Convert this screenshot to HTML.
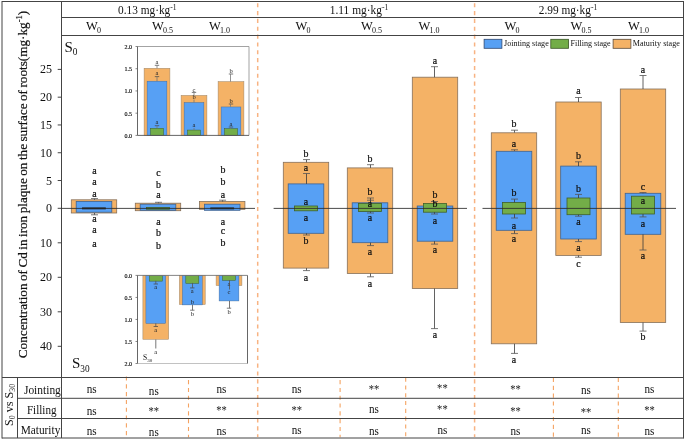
<!DOCTYPE html>
<html><head><meta charset="utf-8"><title>Figure</title>
<style>
html,body{margin:0;padding:0;background:#fff;}
svg{display:block;font-family:"Liberation Serif",serif;}
</style></head><body>
<svg width="685" height="441" viewBox="0 0 685 441">
<rect x="0" y="0" width="685" height="441" fill="#ffffff"/>
<line x1="257.7" y1="3.2" x2="257.7" y2="437" stroke="#F8B382" stroke-width="1.5" stroke-dasharray="4.1 3.735"/>
<line x1="474.6" y1="3.2" x2="474.6" y2="437" stroke="#F8B382" stroke-width="1.5" stroke-dasharray="4.1 3.735"/>
<line x1="126.4" y1="376.5" x2="126.4" y2="437.3" stroke="#F5A362" stroke-width="1.1" stroke-dasharray="4.1 3.7"/>
<line x1="188.5" y1="380.1" x2="188.5" y2="437.3" stroke="#F5A362" stroke-width="1.1" stroke-dasharray="4.1 3.7"/>
<line x1="340.1" y1="380.1" x2="340.1" y2="437.3" stroke="#F5A362" stroke-width="1.1" stroke-dasharray="4.1 3.7"/>
<line x1="405.7" y1="377.6" x2="405.7" y2="437.3" stroke="#F5A362" stroke-width="1.1" stroke-dasharray="4.1 3.7"/>
<line x1="553.4" y1="378" x2="553.4" y2="437.3" stroke="#F5A362" stroke-width="1.1" stroke-dasharray="4.1 3.7"/>
<line x1="618.3" y1="378" x2="618.3" y2="437.3" stroke="#F5A362" stroke-width="1.1" stroke-dasharray="4.1 3.7"/>
<line x1="2" y1="1.5" x2="683.5" y2="1.5" stroke="#444" stroke-width="1" />
<line x1="2" y1="438" x2="683.5" y2="438" stroke="#444" stroke-width="1" />
<line x1="2" y1="1.0" x2="2" y2="438.5" stroke="#444" stroke-width="1" />
<line x1="683.5" y1="1.0" x2="683.5" y2="438.5" stroke="#444" stroke-width="1" />
<line x1="61.5" y1="1.5" x2="61.5" y2="438" stroke="#444" stroke-width="1" />
<line x1="61.5" y1="17.5" x2="683.5" y2="17.5" stroke="#444" stroke-width="1" />
<line x1="61.5" y1="35.5" x2="683.5" y2="35.5" stroke="#444" stroke-width="1" />
<line x1="2" y1="377.5" x2="683.5" y2="377.5" stroke="#444" stroke-width="1" />
<line x1="17.5" y1="398.3" x2="683.5" y2="398.3" stroke="#444" stroke-width="1" />
<line x1="17.5" y1="418.5" x2="683.5" y2="418.5" stroke="#444" stroke-width="1" />
<line x1="17.5" y1="377.5" x2="17.5" y2="438" stroke="#444" stroke-width="1" />
<text x="147.3" y="13.9" font-size="12" text-anchor="middle" fill="#111" textLength="58.5" lengthAdjust="spacingAndGlyphs">0.13 mg·kg<tspan dy="-3.6" font-size="8">-1</tspan></text>
<text x="359" y="13.9" font-size="12" text-anchor="middle" fill="#111" textLength="58.5" lengthAdjust="spacingAndGlyphs">1.11 mg·kg<tspan dy="-3.6" font-size="8">-1</tspan></text>
<text x="568" y="13.9" font-size="12" text-anchor="middle" fill="#111" textLength="58.5" lengthAdjust="spacingAndGlyphs">2.99 mg·kg<tspan dy="-3.6" font-size="8">-1</tspan></text>
<text x="93.4" y="30.2" font-size="12.5" text-anchor="middle" fill="#111">W<tspan dy="3" dx="-0.8" font-size="8">0</tspan></text>
<text x="162.4" y="30.2" font-size="12.5" text-anchor="middle" fill="#111">W<tspan dy="3" dx="-0.8" font-size="8">0.5</tspan></text>
<text x="219.4" y="30.2" font-size="12.5" text-anchor="middle" fill="#111">W<tspan dy="3" dx="-0.8" font-size="8">1.0</tspan></text>
<text x="302.9" y="30.2" font-size="12.5" text-anchor="middle" fill="#111">W<tspan dy="3" dx="-0.8" font-size="8">0</tspan></text>
<text x="371.4" y="30.2" font-size="12.5" text-anchor="middle" fill="#111">W<tspan dy="3" dx="-0.8" font-size="8">0.5</tspan></text>
<text x="428.9" y="30.2" font-size="12.5" text-anchor="middle" fill="#111">W<tspan dy="3" dx="-0.8" font-size="8">1.0</tspan></text>
<text x="512.1" y="30.2" font-size="12.5" text-anchor="middle" fill="#111">W<tspan dy="3" dx="-0.8" font-size="8">0</tspan></text>
<text x="580.9" y="30.2" font-size="12.5" text-anchor="middle" fill="#111">W<tspan dy="3" dx="-0.8" font-size="8">0.5</tspan></text>
<text x="638.4" y="30.2" font-size="12.5" text-anchor="middle" fill="#111">W<tspan dy="3" dx="-0.8" font-size="8">1.0</tspan></text>
<line x1="57.7" y1="180.52" x2="61.5" y2="180.52" stroke="#444" stroke-width="1" />
<text x="52" y="184.52" font-size="12" text-anchor="end" fill="#111" >5</text>
<line x1="57.7" y1="152.74" x2="61.5" y2="152.74" stroke="#444" stroke-width="1" />
<text x="52" y="156.74" font-size="12" text-anchor="end" fill="#111" >10</text>
<line x1="57.7" y1="124.96000000000001" x2="61.5" y2="124.96000000000001" stroke="#444" stroke-width="1" />
<text x="52" y="128.96" font-size="12" text-anchor="end" fill="#111" >15</text>
<line x1="57.7" y1="97.18" x2="61.5" y2="97.18" stroke="#444" stroke-width="1" />
<text x="52" y="101.18" font-size="12" text-anchor="end" fill="#111" >20</text>
<line x1="57.7" y1="69.4" x2="61.5" y2="69.4" stroke="#444" stroke-width="1" />
<text x="52" y="73.4" font-size="12" text-anchor="end" fill="#111" >25</text>
<line x1="57.7" y1="208.3" x2="61.5" y2="208.3" stroke="#444" stroke-width="1" />
<text x="52" y="212.3" font-size="12" text-anchor="end" fill="#111" >0</text>
<line x1="57.7" y1="242.8" x2="61.5" y2="242.8" stroke="#444" stroke-width="1" />
<text x="52" y="246.8" font-size="12" text-anchor="end" fill="#111" >10</text>
<line x1="57.7" y1="277.3" x2="61.5" y2="277.3" stroke="#444" stroke-width="1" />
<text x="52" y="281.3" font-size="12" text-anchor="end" fill="#111" >20</text>
<line x1="57.7" y1="311.8" x2="61.5" y2="311.8" stroke="#444" stroke-width="1" />
<text x="52" y="315.8" font-size="12" text-anchor="end" fill="#111" >30</text>
<line x1="57.7" y1="346.3" x2="61.5" y2="346.3" stroke="#444" stroke-width="1" />
<text x="52" y="350.3" font-size="12" text-anchor="end" fill="#111" >40</text>
<text transform="translate(27,358.2) rotate(-90)" font-size="13.2" word-spacing="-0.84" text-anchor="start" fill="#111" stroke="#111" stroke-width="0.2">Concentration of Cd in iron plaque on the surface of roots(mg·kg<tspan dy="-5" font-size="8.5">-1</tspan><tspan dy="5">)</tspan></text>
<text x="64.5" y="51.5" font-size="15" fill="#111">S<tspan dy="3.5" font-size="9.3">0</tspan></text>
<text x="72" y="368.1" font-size="15" fill="#111">S<tspan dy="3.5" font-size="9.3">30</tspan></text>
<rect x="71.30" y="199.80" width="45.40" height="13.20" fill="#F4B266" stroke="#86705a" stroke-width="0.8"/>
<rect x="76.20" y="201.40" width="35.60" height="10.80" fill="#57A0F4" stroke="#3f6390" stroke-width="0.8"/>
<rect x="82.50" y="207.90" width="23.00" height="1.00" fill="#26331a" stroke="#1a1a1a" stroke-width="0.8"/>
<rect x="135.30" y="203.20" width="45.40" height="7.50" fill="#F4B266" stroke="#86705a" stroke-width="0.8"/>
<rect x="140.20" y="204.20" width="35.60" height="6.10" fill="#57A0F4" stroke="#3f6390" stroke-width="0.8"/>
<rect x="146.50" y="207.50" width="23.00" height="1.70" fill="#73AD48" stroke="#3f5f2a" stroke-width="0.8"/>
<rect x="199.50" y="201.50" width="45.40" height="7.80" fill="#F4B266" stroke="#86705a" stroke-width="0.8"/>
<rect x="204.40" y="204.20" width="35.60" height="6.10" fill="#57A0F4" stroke="#3f6390" stroke-width="0.8"/>
<rect x="210.70" y="207.90" width="23.00" height="1.00" fill="#26331a" stroke="#1a1a1a" stroke-width="0.8"/>
<rect x="283.30" y="162.30" width="45.40" height="105.80" fill="#F4B266" stroke="#86705a" stroke-width="0.8"/>
<rect x="288.20" y="183.90" width="35.60" height="49.40" fill="#57A0F4" stroke="#3f6390" stroke-width="0.8"/>
<rect x="294.50" y="206.00" width="23.00" height="4.80" fill="#73AD48" stroke="#3f5f2a" stroke-width="0.8"/>
<rect x="347.30" y="167.90" width="45.40" height="105.60" fill="#F4B266" stroke="#86705a" stroke-width="0.8"/>
<rect x="352.20" y="202.80" width="35.60" height="39.90" fill="#57A0F4" stroke="#3f6390" stroke-width="0.8"/>
<rect x="358.50" y="203.50" width="23.00" height="8.00" fill="#73AD48" stroke="#3f5f2a" stroke-width="0.8"/>
<rect x="412.30" y="77.20" width="45.40" height="211.40" fill="#F4B266" stroke="#86705a" stroke-width="0.8"/>
<rect x="417.20" y="206.00" width="35.60" height="35.20" fill="#57A0F4" stroke="#3f6390" stroke-width="0.8"/>
<rect x="423.50" y="203.50" width="23.00" height="8.70" fill="#73AD48" stroke="#3f5f2a" stroke-width="0.8"/>
<rect x="491.30" y="132.80" width="45.40" height="211.00" fill="#F4B266" stroke="#86705a" stroke-width="0.8"/>
<rect x="496.20" y="151.30" width="35.60" height="79.00" fill="#57A0F4" stroke="#3f6390" stroke-width="0.8"/>
<rect x="502.50" y="202.40" width="23.00" height="11.60" fill="#73AD48" stroke="#3f5f2a" stroke-width="0.8"/>
<rect x="555.80" y="102.00" width="45.40" height="153.40" fill="#F4B266" stroke="#86705a" stroke-width="0.8"/>
<rect x="560.70" y="166.10" width="35.60" height="72.90" fill="#57A0F4" stroke="#3f6390" stroke-width="0.8"/>
<rect x="567.00" y="198.00" width="23.00" height="16.70" fill="#73AD48" stroke="#3f5f2a" stroke-width="0.8"/>
<rect x="620.30" y="89.00" width="45.40" height="233.50" fill="#F4B266" stroke="#86705a" stroke-width="0.8"/>
<rect x="625.20" y="193.30" width="35.60" height="41.00" fill="#57A0F4" stroke="#3f6390" stroke-width="0.8"/>
<rect x="631.50" y="196.20" width="23.00" height="17.80" fill="#73AD48" stroke="#3f5f2a" stroke-width="0.8"/>
<line x1="61.5" y1="208.4" x2="255" y2="208.4" stroke="#2a2a2a" stroke-width="0.85" />
<line x1="273.6" y1="208.4" x2="467" y2="208.4" stroke="#2a2a2a" stroke-width="0.85" />
<line x1="482.5" y1="208.4" x2="676" y2="208.4" stroke="#2a2a2a" stroke-width="0.85" />
<line x1="94.5" y1="199.8" x2="94.5" y2="198.6" stroke="#3a3a3a" stroke-width="0.8" />
<line x1="91.0" y1="198.6" x2="98.0" y2="198.6" stroke="#555" stroke-width="0.8" />
<line x1="94.5" y1="213" x2="94.5" y2="214.8" stroke="#3a3a3a" stroke-width="0.8" />
<line x1="91.0" y1="214.8" x2="98.0" y2="214.8" stroke="#555" stroke-width="0.8" />
<line x1="158.5" y1="203.2" x2="158.5" y2="202.3" stroke="#3a3a3a" stroke-width="0.8" />
<line x1="155.0" y1="202.3" x2="162.0" y2="202.3" stroke="#555" stroke-width="0.8" />
<line x1="222.6" y1="201.5" x2="222.6" y2="200.2" stroke="#3a3a3a" stroke-width="0.8" />
<line x1="219.1" y1="200.2" x2="226.1" y2="200.2" stroke="#555" stroke-width="0.8" />
<text transform="translate(94.40,173.60) scale(0.9,1)" font-size="11" text-anchor="middle" fill="#111" stroke="#111" stroke-width="0.25">a</text>
<text transform="translate(94.40,184.70) scale(0.9,1)" font-size="11" text-anchor="middle" fill="#111" stroke="#111" stroke-width="0.25">a</text>
<text transform="translate(94.40,197.30) scale(0.9,1)" font-size="11" text-anchor="middle" fill="#111" stroke="#111" stroke-width="0.25">a</text>
<text transform="translate(94.40,222.10) scale(0.9,1)" font-size="11" text-anchor="middle" fill="#111" stroke="#111" stroke-width="0.25">a</text>
<text transform="translate(94.40,233.30) scale(0.9,1)" font-size="11" text-anchor="middle" fill="#111" stroke="#111" stroke-width="0.25">a</text>
<text transform="translate(94.40,246.60) scale(0.9,1)" font-size="11" text-anchor="middle" fill="#111" stroke="#111" stroke-width="0.25">a</text>
<text transform="translate(158.40,175.50) scale(0.9,1)" font-size="11" text-anchor="middle" fill="#111" stroke="#111" stroke-width="0.25">c</text>
<text transform="translate(158.40,188.40) scale(0.9,1)" font-size="11" text-anchor="middle" fill="#111" stroke="#111" stroke-width="0.25">b</text>
<text transform="translate(158.40,197.60) scale(0.9,1)" font-size="11" text-anchor="middle" fill="#111" stroke="#111" stroke-width="0.25">a</text>
<text transform="translate(158.40,224.80) scale(0.9,1)" font-size="11" text-anchor="middle" fill="#111" stroke="#111" stroke-width="0.25">a</text>
<text transform="translate(158.40,235.70) scale(0.9,1)" font-size="11" text-anchor="middle" fill="#111" stroke="#111" stroke-width="0.25">b</text>
<text transform="translate(158.40,249.10) scale(0.9,1)" font-size="11" text-anchor="middle" fill="#111" stroke="#111" stroke-width="0.25">b</text>
<text transform="translate(223.00,172.80) scale(0.9,1)" font-size="11" text-anchor="middle" fill="#111" stroke="#111" stroke-width="0.25">b</text>
<text transform="translate(223.00,185.40) scale(0.9,1)" font-size="11" text-anchor="middle" fill="#111" stroke="#111" stroke-width="0.25">b</text>
<text transform="translate(223.00,197.60) scale(0.9,1)" font-size="11" text-anchor="middle" fill="#111" stroke="#111" stroke-width="0.25">a</text>
<text transform="translate(223.00,224.50) scale(0.9,1)" font-size="11" text-anchor="middle" fill="#111" stroke="#111" stroke-width="0.25">a</text>
<text transform="translate(223.00,234.00) scale(0.9,1)" font-size="11" text-anchor="middle" fill="#111" stroke="#111" stroke-width="0.25">c</text>
<text transform="translate(223.00,245.90) scale(0.9,1)" font-size="11" text-anchor="middle" fill="#111" stroke="#111" stroke-width="0.25">b</text>
<line x1="306.5" y1="162.3" x2="306.5" y2="159.6" stroke="#3a3a3a" stroke-width="0.8" />
<line x1="303.0" y1="159.6" x2="310.0" y2="159.6" stroke="#555" stroke-width="0.8" />
<line x1="306.5" y1="183.9" x2="306.5" y2="173.5" stroke="#3a3a3a" stroke-width="0.8" />
<line x1="303.0" y1="173.5" x2="310.0" y2="173.5" stroke="#555" stroke-width="0.8" />
<line x1="306.5" y1="268.1" x2="306.5" y2="270.6" stroke="#3a3a3a" stroke-width="0.8" />
<line x1="303.0" y1="270.6" x2="310.0" y2="270.6" stroke="#555" stroke-width="0.8" />
<line x1="306.5" y1="233.3" x2="306.5" y2="235" stroke="#3a3a3a" stroke-width="0.8" />
<line x1="303.0" y1="235" x2="310.0" y2="235" stroke="#555" stroke-width="0.8" />
<text transform="translate(306.00,157.20) scale(0.9,1)" font-size="11" text-anchor="middle" fill="#111" stroke="#111" stroke-width="0.25">b</text>
<text transform="translate(306.00,170.80) scale(0.9,1)" font-size="11" text-anchor="middle" fill="#111" stroke="#111" stroke-width="0.25">a</text>
<text transform="translate(306.00,205.00) scale(0.9,1)" font-size="11" text-anchor="middle" fill="#111" stroke="#111" stroke-width="0.25">a</text>
<text transform="translate(306.00,220.60) scale(0.9,1)" font-size="11" text-anchor="middle" fill="#111" stroke="#111" stroke-width="0.25">a</text>
<text transform="translate(306.00,244.20) scale(0.9,1)" font-size="11" text-anchor="middle" fill="#111" stroke="#111" stroke-width="0.25">b</text>
<text transform="translate(306.00,280.50) scale(0.9,1)" font-size="11" text-anchor="middle" fill="#111" stroke="#111" stroke-width="0.25">a</text>
<line x1="370.5" y1="167.9" x2="370.5" y2="164.7" stroke="#3a3a3a" stroke-width="0.8" />
<line x1="367.0" y1="164.7" x2="374.0" y2="164.7" stroke="#555" stroke-width="0.8" />
<line x1="370.5" y1="202.8" x2="370.5" y2="198" stroke="#3a3a3a" stroke-width="0.8" />
<line x1="367.0" y1="198" x2="374.0" y2="198" stroke="#555" stroke-width="0.8" />
<line x1="370.5" y1="203.5" x2="370.5" y2="200.2" stroke="#3a3a3a" stroke-width="0.8" />
<line x1="367.0" y1="200.2" x2="374.0" y2="200.2" stroke="#555" stroke-width="0.8" />
<line x1="370.5" y1="242.7" x2="370.5" y2="245.6" stroke="#3a3a3a" stroke-width="0.8" />
<line x1="367.0" y1="245.6" x2="374.0" y2="245.6" stroke="#555" stroke-width="0.8" />
<line x1="370.5" y1="273.5" x2="370.5" y2="276.8" stroke="#3a3a3a" stroke-width="0.8" />
<line x1="367.0" y1="276.8" x2="374.0" y2="276.8" stroke="#555" stroke-width="0.8" />
<line x1="370.5" y1="211.5" x2="370.5" y2="213" stroke="#3a3a3a" stroke-width="0.8" />
<line x1="367.0" y1="213" x2="374.0" y2="213" stroke="#555" stroke-width="0.8" />
<text transform="translate(370.00,161.50) scale(0.9,1)" font-size="11" text-anchor="middle" fill="#111" stroke="#111" stroke-width="0.25">b</text>
<text transform="translate(370.00,194.50) scale(0.9,1)" font-size="11" text-anchor="middle" fill="#111" stroke="#111" stroke-width="0.25">b</text>
<text transform="translate(370.00,206.80) scale(0.9,1)" font-size="11" text-anchor="middle" fill="#111" stroke="#111" stroke-width="0.25">a</text>
<text transform="translate(370.00,221.30) scale(0.9,1)" font-size="11" text-anchor="middle" fill="#111" stroke="#111" stroke-width="0.25">a</text>
<text transform="translate(370.00,255.10) scale(0.9,1)" font-size="11" text-anchor="middle" fill="#111" stroke="#111" stroke-width="0.25">a</text>
<text transform="translate(370.00,286.60) scale(0.9,1)" font-size="11" text-anchor="middle" fill="#111" stroke="#111" stroke-width="0.25">a</text>
<line x1="434.5" y1="77.2" x2="434.5" y2="66.7" stroke="#3a3a3a" stroke-width="0.8" />
<line x1="431.0" y1="66.7" x2="438.0" y2="66.7" stroke="#555" stroke-width="0.8" />
<line x1="434.5" y1="288.6" x2="434.5" y2="328.6" stroke="#3a3a3a" stroke-width="0.8" />
<line x1="431.0" y1="328.6" x2="438.0" y2="328.6" stroke="#555" stroke-width="0.8" />
<line x1="434.5" y1="241.2" x2="434.5" y2="244.1" stroke="#3a3a3a" stroke-width="0.8" />
<line x1="431.0" y1="244.1" x2="438.0" y2="244.1" stroke="#555" stroke-width="0.8" />
<line x1="434.5" y1="203.5" x2="434.5" y2="201.5" stroke="#3a3a3a" stroke-width="0.8" />
<line x1="431.0" y1="201.5" x2="438.0" y2="201.5" stroke="#555" stroke-width="0.8" />
<line x1="434.5" y1="212.2" x2="434.5" y2="214" stroke="#3a3a3a" stroke-width="0.8" />
<line x1="431.0" y1="214" x2="438.0" y2="214" stroke="#555" stroke-width="0.8" />
<text transform="translate(435.00,63.80) scale(0.9,1)" font-size="11" text-anchor="middle" fill="#111" stroke="#111" stroke-width="0.25">a</text>
<text transform="translate(435.00,197.80) scale(0.9,1)" font-size="11" text-anchor="middle" fill="#111" stroke="#111" stroke-width="0.25">b</text>
<text transform="translate(435.00,207.20) scale(0.9,1)" font-size="11" text-anchor="middle" fill="#111" stroke="#111" stroke-width="0.25">b</text>
<text transform="translate(435.00,223.50) scale(0.9,1)" font-size="11" text-anchor="middle" fill="#111" stroke="#111" stroke-width="0.25">a</text>
<text transform="translate(435.00,253.30) scale(0.9,1)" font-size="11" text-anchor="middle" fill="#111" stroke="#111" stroke-width="0.25">a</text>
<text transform="translate(435.00,338.10) scale(0.9,1)" font-size="11" text-anchor="middle" fill="#111" stroke="#111" stroke-width="0.25">a</text>
<line x1="514.5" y1="132.6" x2="514.5" y2="130.2" stroke="#3a3a3a" stroke-width="0.8" />
<line x1="511.0" y1="130.2" x2="518.0" y2="130.2" stroke="#555" stroke-width="0.8" />
<line x1="514.5" y1="150.9" x2="514.5" y2="149.8" stroke="#3a3a3a" stroke-width="0.8" />
<line x1="511.0" y1="149.8" x2="518.0" y2="149.8" stroke="#555" stroke-width="0.8" />
<line x1="514.5" y1="202.4" x2="514.5" y2="199.1" stroke="#3a3a3a" stroke-width="0.8" />
<line x1="511.0" y1="199.1" x2="518.0" y2="199.1" stroke="#555" stroke-width="0.8" />
<line x1="514.5" y1="214" x2="514.5" y2="218" stroke="#3a3a3a" stroke-width="0.8" />
<line x1="511.0" y1="218" x2="518.0" y2="218" stroke="#555" stroke-width="0.8" />
<line x1="514.5" y1="230.3" x2="514.5" y2="233.6" stroke="#3a3a3a" stroke-width="0.8" />
<line x1="511.0" y1="233.6" x2="518.0" y2="233.6" stroke="#555" stroke-width="0.8" />
<line x1="514.5" y1="343.8" x2="514.5" y2="353.4" stroke="#3a3a3a" stroke-width="0.8" />
<line x1="511.0" y1="353.4" x2="518.0" y2="353.4" stroke="#555" stroke-width="0.8" />
<text transform="translate(514.00,126.60) scale(0.9,1)" font-size="11" text-anchor="middle" fill="#111" stroke="#111" stroke-width="0.25">b</text>
<text transform="translate(514.00,147.00) scale(0.9,1)" font-size="11" text-anchor="middle" fill="#111" stroke="#111" stroke-width="0.25">a</text>
<text transform="translate(514.00,196.30) scale(0.9,1)" font-size="11" text-anchor="middle" fill="#111" stroke="#111" stroke-width="0.25">b</text>
<text transform="translate(514.00,228.60) scale(0.9,1)" font-size="11" text-anchor="middle" fill="#111" stroke="#111" stroke-width="0.25">a</text>
<text transform="translate(514.00,242.40) scale(0.9,1)" font-size="11" text-anchor="middle" fill="#111" stroke="#111" stroke-width="0.25">a</text>
<text transform="translate(514.00,362.80) scale(0.9,1)" font-size="11" text-anchor="middle" fill="#111" stroke="#111" stroke-width="0.25">a</text>
<line x1="578.5" y1="102" x2="578.5" y2="97.5" stroke="#3a3a3a" stroke-width="0.8" />
<line x1="575.0" y1="97.5" x2="582.0" y2="97.5" stroke="#555" stroke-width="0.8" />
<line x1="578.5" y1="166.1" x2="578.5" y2="161.8" stroke="#3a3a3a" stroke-width="0.8" />
<line x1="575.0" y1="161.8" x2="582.0" y2="161.8" stroke="#555" stroke-width="0.8" />
<line x1="578.5" y1="198" x2="578.5" y2="194.4" stroke="#3a3a3a" stroke-width="0.8" />
<line x1="575.0" y1="194.4" x2="582.0" y2="194.4" stroke="#555" stroke-width="0.8" />
<line x1="578.5" y1="214.7" x2="578.5" y2="216.2" stroke="#3a3a3a" stroke-width="0.8" />
<line x1="575.0" y1="216.2" x2="582.0" y2="216.2" stroke="#555" stroke-width="0.8" />
<line x1="578.5" y1="239" x2="578.5" y2="241.6" stroke="#3a3a3a" stroke-width="0.8" />
<line x1="575.0" y1="241.6" x2="582.0" y2="241.6" stroke="#555" stroke-width="0.8" />
<line x1="578.5" y1="255.4" x2="578.5" y2="257.2" stroke="#3a3a3a" stroke-width="0.8" />
<line x1="575.0" y1="257.2" x2="582.0" y2="257.2" stroke="#555" stroke-width="0.8" />
<text transform="translate(578.50,94.40) scale(0.9,1)" font-size="11" text-anchor="middle" fill="#111" stroke="#111" stroke-width="0.25">a</text>
<text transform="translate(578.50,158.90) scale(0.9,1)" font-size="11" text-anchor="middle" fill="#111" stroke="#111" stroke-width="0.25">b</text>
<text transform="translate(578.50,191.60) scale(0.9,1)" font-size="11" text-anchor="middle" fill="#111" stroke="#111" stroke-width="0.25">b</text>
<text transform="translate(578.50,225.30) scale(0.9,1)" font-size="11" text-anchor="middle" fill="#111" stroke="#111" stroke-width="0.25">a</text>
<text transform="translate(578.50,250.70) scale(0.9,1)" font-size="11" text-anchor="middle" fill="#111" stroke="#111" stroke-width="0.25">a</text>
<text transform="translate(578.50,266.60) scale(0.9,1)" font-size="11" text-anchor="middle" fill="#111" stroke="#111" stroke-width="0.25">c</text>
<line x1="643" y1="89" x2="643" y2="75.5" stroke="#3a3a3a" stroke-width="0.8" />
<line x1="639.5" y1="75.5" x2="646.5" y2="75.5" stroke="#555" stroke-width="0.8" />
<line x1="643" y1="193.3" x2="643" y2="192.5" stroke="#3a3a3a" stroke-width="0.8" />
<line x1="639.5" y1="192.5" x2="646.5" y2="192.5" stroke="#555" stroke-width="0.8" />
<line x1="643" y1="214" x2="643" y2="216.9" stroke="#3a3a3a" stroke-width="0.8" />
<line x1="639.5" y1="216.9" x2="646.5" y2="216.9" stroke="#555" stroke-width="0.8" />
<line x1="643" y1="234.3" x2="643" y2="250" stroke="#3a3a3a" stroke-width="0.8" />
<line x1="639.5" y1="250" x2="646.5" y2="250" stroke="#555" stroke-width="0.8" />
<line x1="643" y1="322.5" x2="643" y2="331.1" stroke="#3a3a3a" stroke-width="0.8" />
<line x1="639.5" y1="331.1" x2="646.5" y2="331.1" stroke="#555" stroke-width="0.8" />
<text transform="translate(643.00,72.80) scale(0.9,1)" font-size="11" text-anchor="middle" fill="#111" stroke="#111" stroke-width="0.25">a</text>
<text transform="translate(643.00,189.80) scale(0.9,1)" font-size="11" text-anchor="middle" fill="#111" stroke="#111" stroke-width="0.25">c</text>
<text transform="translate(643.00,203.60) scale(0.9,1)" font-size="11" text-anchor="middle" fill="#111" stroke="#111" stroke-width="0.25">a</text>
<text transform="translate(643.00,226.80) scale(0.9,1)" font-size="11" text-anchor="middle" fill="#111" stroke="#111" stroke-width="0.25">a</text>
<text transform="translate(643.00,258.70) scale(0.9,1)" font-size="11" text-anchor="middle" fill="#111" stroke="#111" stroke-width="0.25">a</text>
<text transform="translate(643.00,339.90) scale(0.9,1)" font-size="11" text-anchor="middle" fill="#111" stroke="#111" stroke-width="0.25">b</text>
<rect x="484.10" y="39.30" width="17.80" height="9.00" fill="#57A0F4" stroke="#2f4870" stroke-width="0.8"/>
<text x="504.0" y="46.2" font-size="8.1" text-anchor="start" fill="#111" >Jointing stage</text>
<rect x="550.80" y="39.30" width="17.80" height="9.00" fill="#73AD48" stroke="#3a5526" stroke-width="0.8"/>
<text x="570.4" y="46.2" font-size="8.1" text-anchor="start" fill="#111" >Filling stage</text>
<rect x="613.10" y="39.30" width="17.80" height="9.00" fill="#F4B266" stroke="#5a4a3a" stroke-width="0.8"/>
<text x="632.8" y="46.2" font-size="8.1" text-anchor="start" fill="#111" >Maturity stage</text>
<rect x="137.5" y="46.5" width="111.5" height="88.9" fill="#fff" stroke="none"/>
<rect x="144.10" y="68.28" width="25.80" height="67.12" fill="#F4B266" stroke="#9a8468" stroke-width="0.5"/>
<rect x="147.10" y="81.17" width="19.80" height="54.23" fill="#57A0F4" stroke="#3f6390" stroke-width="0.4"/>
<rect x="150.50" y="128.29" width="13.00" height="7.11" fill="#73AD48" stroke="#3f5f2a" stroke-width="0.5"/>
<rect x="181.10" y="95.40" width="25.80" height="40.00" fill="#F4B266" stroke="#9a8468" stroke-width="0.5"/>
<rect x="184.10" y="102.51" width="19.80" height="32.89" fill="#57A0F4" stroke="#3f6390" stroke-width="0.4"/>
<rect x="187.50" y="130.07" width="13.00" height="5.33" fill="#73AD48" stroke="#3f5f2a" stroke-width="0.5"/>
<rect x="218.10" y="81.62" width="25.80" height="53.78" fill="#F4B266" stroke="#9a8468" stroke-width="0.5"/>
<rect x="221.10" y="106.95" width="19.80" height="28.45" fill="#57A0F4" stroke="#3f6390" stroke-width="0.4"/>
<rect x="224.50" y="128.73" width="13.00" height="6.67" fill="#73AD48" stroke="#3f5f2a" stroke-width="0.5"/>
<line x1="137.5" y1="46.5" x2="249" y2="46.5" stroke="#999" stroke-width="0.9" />
<line x1="249" y1="46.5" x2="249" y2="135.4" stroke="#999" stroke-width="0.9" />
<line x1="137.5" y1="135.4" x2="249" y2="135.4" stroke="#555" stroke-width="0.9" />
<line x1="137.5" y1="46.5" x2="137.5" y2="135.4" stroke="#555" stroke-width="0.9" />
<line x1="135.5" y1="135.4" x2="137.5" y2="135.4" stroke="#555" stroke-width="0.7" />
<text transform="translate(132.10,137.80) scale(0.86,1)" font-size="7" text-anchor="end" fill="#000" stroke="#000" stroke-width="0.15">0.0</text>
<line x1="135.5" y1="113.17500000000001" x2="137.5" y2="113.17500000000001" stroke="#555" stroke-width="0.7" />
<text transform="translate(132.10,115.58) scale(0.86,1)" font-size="7" text-anchor="end" fill="#000" stroke="#000" stroke-width="0.15">0.5</text>
<line x1="135.5" y1="90.95" x2="137.5" y2="90.95" stroke="#555" stroke-width="0.7" />
<text transform="translate(132.10,93.35) scale(0.86,1)" font-size="7" text-anchor="end" fill="#000" stroke="#000" stroke-width="0.15">1.0</text>
<line x1="135.5" y1="68.725" x2="137.5" y2="68.725" stroke="#555" stroke-width="0.7" />
<text transform="translate(132.10,71.12) scale(0.86,1)" font-size="7" text-anchor="end" fill="#000" stroke="#000" stroke-width="0.15">1.5</text>
<line x1="135.5" y1="46.5" x2="137.5" y2="46.5" stroke="#555" stroke-width="0.7" />
<text transform="translate(132.10,48.90) scale(0.86,1)" font-size="7" text-anchor="end" fill="#000" stroke="#000" stroke-width="0.15">2.0</text>
<rect x="137.5" y="275.4" width="110.0" height="88.10000000000002" fill="#fff" stroke="none"/>
<rect x="142.90" y="275.40" width="25.80" height="63.87" fill="#F4B266" stroke="#9a8468" stroke-width="0.5"/>
<rect x="145.90" y="275.40" width="19.80" height="48.01" fill="#57A0F4" stroke="#3f6390" stroke-width="0.4"/>
<rect x="149.30" y="275.40" width="13.00" height="5.73" fill="#73AD48" stroke="#3f5f2a" stroke-width="0.5"/>
<rect x="179.40" y="275.40" width="25.80" height="29.07" fill="#F4B266" stroke="#9a8468" stroke-width="0.5"/>
<rect x="182.40" y="275.40" width="19.80" height="29.51" fill="#57A0F4" stroke="#3f6390" stroke-width="0.4"/>
<rect x="185.80" y="275.40" width="13.00" height="7.93" fill="#73AD48" stroke="#3f5f2a" stroke-width="0.5"/>
<rect x="216.10" y="275.40" width="25.80" height="10.13" fill="#F4B266" stroke="#9a8468" stroke-width="0.5"/>
<rect x="219.10" y="275.40" width="19.80" height="25.55" fill="#57A0F4" stroke="#3f6390" stroke-width="0.4"/>
<rect x="222.50" y="275.40" width="13.00" height="4.85" fill="#73AD48" stroke="#3f5f2a" stroke-width="0.5"/>
<line x1="137.5" y1="275.4" x2="247.5" y2="275.4" stroke="#777" stroke-width="0.9" />
<line x1="137.5" y1="363.5" x2="247.5" y2="363.5" stroke="#bbb" stroke-width="0.9" />
<line x1="247.5" y1="275.4" x2="247.5" y2="363.5" stroke="#555" stroke-width="0.9" />
<line x1="137.5" y1="275.4" x2="137.5" y2="363.5" stroke="#555" stroke-width="0.9" />
<line x1="135.5" y1="275.4" x2="137.5" y2="275.4" stroke="#555" stroke-width="0.7" />
<text transform="translate(132.10,277.80) scale(0.86,1)" font-size="7" text-anchor="end" fill="#000" stroke="#000" stroke-width="0.15">0.0</text>
<line x1="135.5" y1="297.42499999999995" x2="137.5" y2="297.42499999999995" stroke="#555" stroke-width="0.7" />
<text transform="translate(132.10,299.82) scale(0.86,1)" font-size="7" text-anchor="end" fill="#000" stroke="#000" stroke-width="0.15">0.5</text>
<line x1="135.5" y1="319.45" x2="137.5" y2="319.45" stroke="#555" stroke-width="0.7" />
<text transform="translate(132.10,321.85) scale(0.86,1)" font-size="7" text-anchor="end" fill="#000" stroke="#000" stroke-width="0.15">1.0</text>
<line x1="135.5" y1="341.475" x2="137.5" y2="341.475" stroke="#555" stroke-width="0.7" />
<text transform="translate(132.10,343.88) scale(0.86,1)" font-size="7" text-anchor="end" fill="#000" stroke="#000" stroke-width="0.15">1.5</text>
<line x1="135.5" y1="363.5" x2="137.5" y2="363.5" stroke="#555" stroke-width="0.7" />
<text transform="translate(132.10,365.90) scale(0.86,1)" font-size="7" text-anchor="end" fill="#000" stroke="#000" stroke-width="0.15">2.0</text>
<text x="157" y="64.0" font-size="6.5" text-anchor="middle" fill="#222" >a</text>
<line x1="154.8" y1="65.3" x2="159.2" y2="65.3" stroke="#444" stroke-width="0.7" />
<line x1="157" y1="65.3" x2="157" y2="68.3" stroke="#777" stroke-width="0.8" />
<text x="157" y="75.1" font-size="6.5" text-anchor="middle" fill="#222" >a</text>
<line x1="154.8" y1="76.6" x2="159.2" y2="76.6" stroke="#444" stroke-width="0.7" />
<line x1="157" y1="76.6" x2="157" y2="81.1" stroke="#777" stroke-width="0.8" />
<text x="157" y="123.8" font-size="6.5" text-anchor="middle" fill="#222" >a</text>
<line x1="154.8" y1="125.7" x2="159.2" y2="125.7" stroke="#444" stroke-width="0.7" />
<line x1="157" y1="125.7" x2="157" y2="128.2" stroke="#777" stroke-width="0.8" />
<text x="194" y="91.5" font-size="6.5" text-anchor="middle" fill="#222" >c</text>
<line x1="191.8" y1="92.4" x2="196.2" y2="92.4" stroke="#444" stroke-width="0.7" />
<line x1="194" y1="92.4" x2="194" y2="95.5" stroke="#777" stroke-width="0.8" />
<text x="194" y="98.6" font-size="6.5" text-anchor="middle" fill="#222" >b</text>
<line x1="194" y1="99.5" x2="194" y2="102.5" stroke="#777" stroke-width="0.8" />
<text x="194" y="126.8" font-size="6.5" text-anchor="middle" fill="#222" >a</text>
<line x1="194" y1="128" x2="194" y2="130" stroke="#777" stroke-width="0.8" />
<text x="231" y="72.8" font-size="6.5" text-anchor="middle" fill="#222" >b</text>
<line x1="228.8" y1="74" x2="233.2" y2="74" stroke="#444" stroke-width="0.7" />
<line x1="230.5" y1="74" x2="230.5" y2="81.6" stroke="#777" stroke-width="0.8" />
<text x="231" y="102.8" font-size="6.5" text-anchor="middle" fill="#222" >b</text>
<line x1="228.8" y1="104" x2="233.2" y2="104" stroke="#444" stroke-width="0.7" />
<line x1="230.5" y1="104" x2="230.5" y2="106.8" stroke="#777" stroke-width="0.8" />
<text x="231" y="126.3" font-size="6.5" text-anchor="middle" fill="#222" >a</text>
<line x1="228.8" y1="127" x2="233.2" y2="127" stroke="#444" stroke-width="0.7" />
<line x1="230.5" y1="127" x2="230.5" y2="128.7" stroke="#777" stroke-width="0.8" />
<text x="155.8" y="288.6" font-size="6.5" text-anchor="middle" fill="#222" >a</text>
<line x1="153.60000000000002" y1="284" x2="158.0" y2="284" stroke="#444" stroke-width="0.7" />
<line x1="155.8" y1="280.8" x2="155.8" y2="284" stroke="#555" stroke-width="0.8" />
<text x="155.8" y="331.6" font-size="6.5" text-anchor="middle" fill="#222" >a</text>
<line x1="153.60000000000002" y1="326.5" x2="158.0" y2="326.5" stroke="#444" stroke-width="0.7" />
<line x1="155.8" y1="323.3" x2="155.8" y2="326.5" stroke="#555" stroke-width="0.8" />
<text x="155.8" y="353.5" font-size="6.5" text-anchor="middle" fill="#222" >a</text>
<line x1="155.8" y1="339.5" x2="155.8" y2="348.5" stroke="#555" stroke-width="0.8" />
<text x="192.3" y="293.1" font-size="6.5" text-anchor="middle" fill="#222" >a</text>
<line x1="190.10000000000002" y1="287.9" x2="194.5" y2="287.9" stroke="#444" stroke-width="0.7" />
<line x1="192.5" y1="282.9" x2="192.5" y2="287.9" stroke="#555" stroke-width="0.8" />
<text x="192.3" y="304.3" font-size="6.5" text-anchor="middle" fill="#222" >b</text>
<text x="192.3" y="315.8" font-size="6.5" text-anchor="middle" fill="#222" >b</text>
<line x1="190.10000000000002" y1="310.2" x2="194.5" y2="310.2" stroke="#444" stroke-width="0.7" />
<line x1="192.5" y1="304.8" x2="192.5" y2="310.2" stroke="#555" stroke-width="0.8" />
<text x="229" y="286.0" font-size="6.5" text-anchor="middle" fill="#222" >a</text>
<text x="229" y="294.40000000000003" font-size="6.5" text-anchor="middle" fill="#222" >c</text>
<line x1="229.5" y1="280" x2="229.5" y2="289.5" stroke="#555" stroke-width="0.8" />
<text x="229" y="313.90000000000003" font-size="6.5" text-anchor="middle" fill="#222" >b</text>
<line x1="226.8" y1="308.2" x2="231.2" y2="308.2" stroke="#444" stroke-width="0.7" />
<line x1="229.5" y1="300.9" x2="229.5" y2="308.2" stroke="#555" stroke-width="0.8" />
<text x="143" y="360" font-size="7.5" fill="#111">S<tspan dy="1.5" font-size="5">30</tspan></text>
<text transform="translate(91.60,393.40) scale(0.87,1)" font-size="12.8" text-anchor="middle" fill="#111">ns</text>
<text transform="translate(153.80,394.50) scale(0.87,1)" font-size="12.8" text-anchor="middle" fill="#111">ns</text>
<text transform="translate(221.50,393.20) scale(0.87,1)" font-size="12.8" text-anchor="middle" fill="#111">ns</text>
<text transform="translate(296.70,393.20) scale(0.87,1)" font-size="12.8" text-anchor="middle" fill="#111">ns</text>
<text transform="translate(374.00,393.40) scale(0.92,1)" font-size="11.5" text-anchor="middle" fill="#222">**</text>
<text transform="translate(442.40,392.00) scale(0.92,1)" font-size="11.5" text-anchor="middle" fill="#222">**</text>
<text transform="translate(515.50,393.30) scale(0.92,1)" font-size="11.5" text-anchor="middle" fill="#222">**</text>
<text transform="translate(586.00,394.30) scale(0.87,1)" font-size="12.8" text-anchor="middle" fill="#111">ns</text>
<text transform="translate(649.50,392.80) scale(0.87,1)" font-size="12.8" text-anchor="middle" fill="#111">ns</text>
<text transform="translate(91.60,415.00) scale(0.87,1)" font-size="12.8" text-anchor="middle" fill="#111">ns</text>
<text transform="translate(153.80,414.60) scale(0.92,1)" font-size="11.5" text-anchor="middle" fill="#222">**</text>
<text transform="translate(221.50,414.00) scale(0.92,1)" font-size="11.5" text-anchor="middle" fill="#222">**</text>
<text transform="translate(296.70,413.50) scale(0.92,1)" font-size="11.5" text-anchor="middle" fill="#222">**</text>
<text transform="translate(374.00,413.40) scale(0.87,1)" font-size="12.8" text-anchor="middle" fill="#111">ns</text>
<text transform="translate(442.40,412.80) scale(0.92,1)" font-size="11.5" text-anchor="middle" fill="#222">**</text>
<text transform="translate(515.50,414.90) scale(0.92,1)" font-size="11.5" text-anchor="middle" fill="#222">**</text>
<text transform="translate(586.00,415.80) scale(0.92,1)" font-size="11.5" text-anchor="middle" fill="#222">**</text>
<text transform="translate(649.50,413.80) scale(0.92,1)" font-size="11.5" text-anchor="middle" fill="#222">**</text>
<text transform="translate(91.60,435.30) scale(0.87,1)" font-size="12.8" text-anchor="middle" fill="#111">ns</text>
<text transform="translate(153.80,436.10) scale(0.87,1)" font-size="12.8" text-anchor="middle" fill="#111">ns</text>
<text transform="translate(221.50,434.70) scale(0.87,1)" font-size="12.8" text-anchor="middle" fill="#111">ns</text>
<text transform="translate(296.70,433.90) scale(0.87,1)" font-size="12.8" text-anchor="middle" fill="#111">ns</text>
<text transform="translate(374.00,434.60) scale(0.87,1)" font-size="12.8" text-anchor="middle" fill="#111">ns</text>
<text transform="translate(442.40,433.70) scale(0.87,1)" font-size="12.8" text-anchor="middle" fill="#111">ns</text>
<text transform="translate(515.50,434.90) scale(0.87,1)" font-size="12.8" text-anchor="middle" fill="#111">ns</text>
<text transform="translate(586.00,434.10) scale(0.87,1)" font-size="12.8" text-anchor="middle" fill="#111">ns</text>
<text transform="translate(649.50,434.90) scale(0.87,1)" font-size="12.8" text-anchor="middle" fill="#111">ns</text>
<text x="42.4" y="393.6" font-size="13" text-anchor="middle" fill="#111" textLength="36.9" lengthAdjust="spacingAndGlyphs">Jointing</text>
<text x="41.7" y="414.2" font-size="13" text-anchor="middle" fill="#111" textLength="29.6" lengthAdjust="spacingAndGlyphs">Filling</text>
<text x="40.5" y="433.5" font-size="13" text-anchor="middle" fill="#111" textLength="39.7" lengthAdjust="spacingAndGlyphs">Maturity</text>
<text transform="translate(12.8,405) rotate(-90)" font-size="12.2" text-anchor="middle" fill="#111">S<tspan dy="2.5" font-size="7.8">0</tspan><tspan dy="-2.5"> vs S</tspan><tspan dy="2.5" font-size="7.8">30</tspan></text>
</svg>
</body></html>
